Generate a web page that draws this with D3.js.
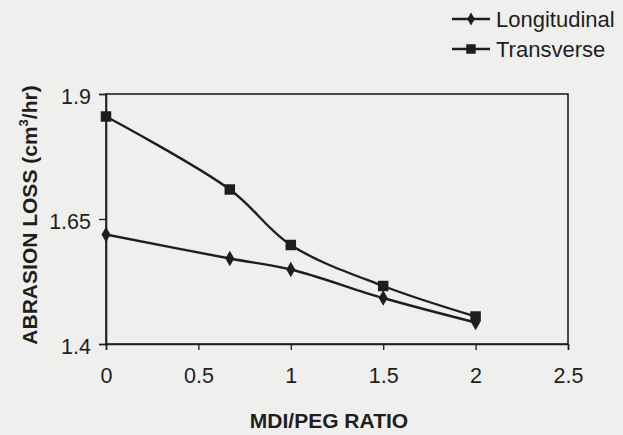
<!DOCTYPE html>
<html>
<head>
<meta charset="utf-8">
<script src="https://cdn.jsdelivr.net/npm/d3@7"></script>
<style>
  html, body { margin: 0; padding: 0; background: #efefed; }
  svg { display: block; }
  text { font-family: "Liberation Sans", Arial, Helvetica, sans-serif; fill: #1e1e1e; }
</style>
</head>
<body>
<svg id="chart" width="623" height="435"></svg>
<script>
const ratios = [0, 0.67, 1, 1.5, 2];
const longitudinal = [1.619, 1.571, 1.549, 1.492, 1.443];
const transverse = [1.855, 1.709, 1.598, 1.516, 1.455];
const seriesNames = ["Longitudinal", "Transverse"];
const xTicks = [0, 0.5, 1, 1.5, 2, 2.5];
const yTicks = [1.4, 1.65, 1.9];
const xTitle = "MDI/PEG RATIO";

const svg = d3.select("#chart");
const ink = "#1e1e1e";
const mLeft = 106, mRight = 568, mTop = 94, mBottom = 344;

const x = d3.scaleLinear().domain([0, 2.5]).range([mLeft, mRight]);
const y = d3.scaleLinear().domain([1.4, 1.9]).range([mBottom, mTop]);

// plot frame
svg.append("rect")
  .attr("x", mLeft).attr("y", mTop)
  .attr("width", mRight - mLeft).attr("height", mBottom - mTop)
  .attr("fill", "none").attr("stroke", ink).attr("stroke-width", 1.6);

// axes
const xAxis = svg.append("g").attr("transform", `translate(0,${mBottom})`)
  .call(d3.axisBottom(x).tickValues(xTicks).tickSize(6).tickPadding(18)
    .tickFormat(d => String(d)));
const yAxis = svg.append("g").attr("transform", `translate(${mLeft},0)`)
  .call(d3.axisLeft(y).tickValues(yTicks).tickSize(7).tickPadding(8)
    .tickFormat(d => String(d)));
[xAxis, yAxis].forEach(g => {
  g.select(".domain").attr("stroke", ink).attr("stroke-width", 1.6);
  g.selectAll(".tick line").attr("stroke", ink).attr("stroke-width", 1.3);
  g.selectAll(".tick text").attr("font-size", 21.5).attr("fill", ink)
    .style("font-family", "'Liberation Sans', Arial, sans-serif");
});
xAxis.selectAll(".tick text").attr("dy", "0.68em");
yAxis.selectAll(".tick text").attr("dy", "0.42em");

// axis titles
svg.append("text")
  .attr("x", (mLeft + mRight) / 2 - 8).attr("y", 428)
  .attr("text-anchor", "middle").attr("font-size", 21).attr("font-weight", "bold")
  .text(xTitle);

const yt = svg.append("text")
  .attr("transform", "translate(37,215) rotate(-90)")
  .attr("text-anchor", "middle").attr("font-size", 21).attr("font-weight", "bold");
yt.append("tspan").text("ABRASION LOSS (cm");
yt.append("tspan").attr("font-size", 13).attr("dy", -9).text("3");
yt.append("tspan").attr("dy", 9).text("/hr)");

// lines
const line = d3.line().x(d => x(d[0])).y(d => y(d[1])).curve(d3.curveCatmullRom.alpha(0.5));
const seriesData = [longitudinal, transverse].map(vals => ratios.map((r, i) => [r, vals[i]]));

seriesData.forEach(pts => {
  svg.append("path").datum(pts)
    .attr("d", line).attr("fill", "none")
    .attr("stroke", ink).attr("stroke-width", 2.4);
});

const diamond = d3.symbol().type(d3.symbolDiamond).size(70);
const square = d3.symbol().type(d3.symbolSquare).size(110);

svg.append("g").selectAll("path").data(seriesData[0]).join("path")
  .attr("d", diamond)
  .attr("transform", d => `translate(${x(d[0])},${y(d[1])})`)
  .attr("fill", ink);
svg.append("g").selectAll("path").data(seriesData[1]).join("path")
  .attr("d", square)
  .attr("transform", d => `translate(${x(d[0])},${y(d[1])})`)
  .attr("fill", ink);

// legend
const legend = svg.append("g");
seriesNames.forEach((name, i) => {
  const ly = 19 + i * 30;
  legend.append("line").attr("x1", 452).attr("x2", 490).attr("y1", ly).attr("y2", ly)
    .attr("stroke", ink).attr("stroke-width", 2.4);
  legend.append("path")
    .attr("d", i === 0 ? d3.symbol().type(d3.symbolDiamond).size(50)() : d3.symbol().type(d3.symbolSquare).size(90)())
    .attr("transform", `translate(471,${ly})`).attr("fill", ink);
  legend.append("text").attr("x", 496).attr("y", ly + 8)
    .attr("font-size", 22).text(name);
});
</script>
</body>
</html>
